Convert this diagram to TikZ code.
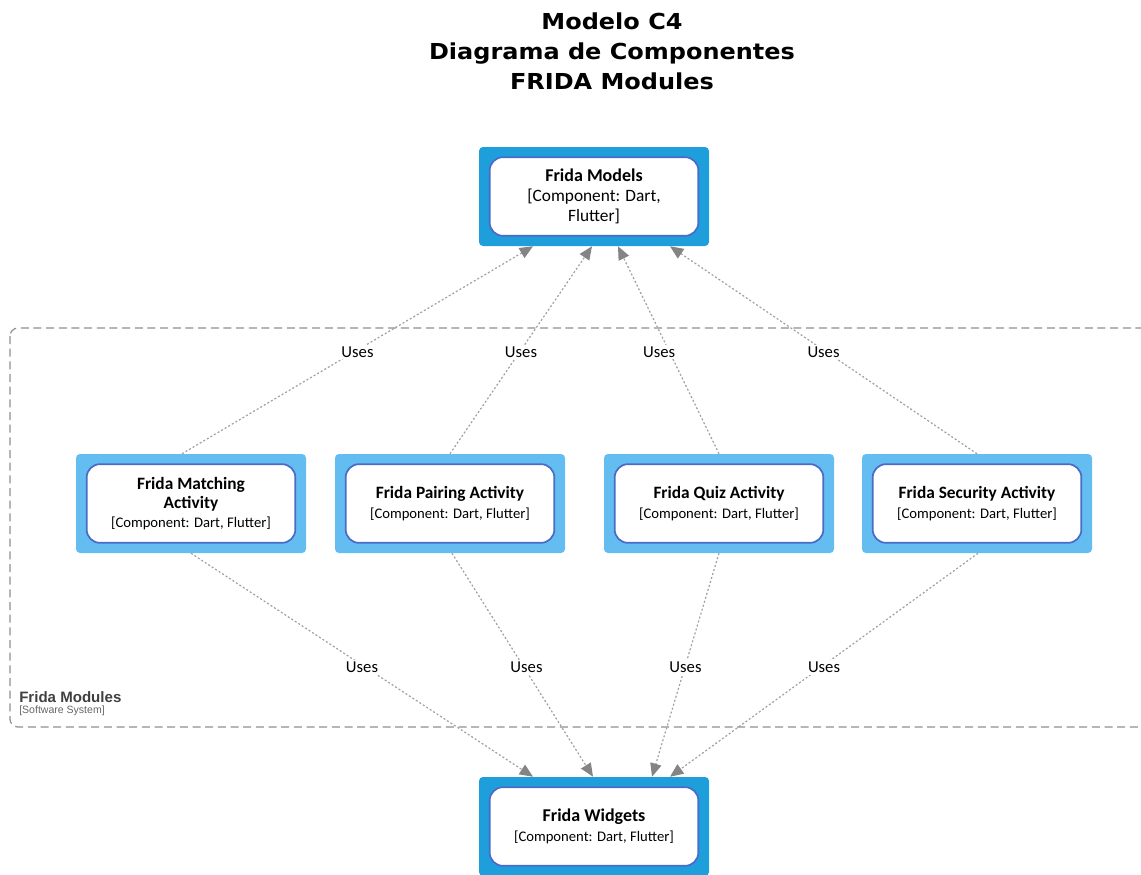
\documentclass[tikz,border=0pt]{standalone}
\usepackage{fontspec}
\setmainfont{Carlito}
\newfontfamily\titlefont[FakeStretch=1.09]{DejaVu Sans}
\newfontfamily\arialfont{Liberation Sans}
\usetikzlibrary{arrows.meta,positioning,calc}

\definecolor{compdark}{HTML}{1E9FDB}
\definecolor{complight}{HTML}{63BDF0}
\definecolor{compedge}{HTML}{4A6BC8}
\definecolor{relgray}{HTML}{A0A0A0}
\definecolor{tipgray}{HTML}{848484}
\definecolor{boundgray}{HTML}{8F8F8F}

\begin{document}
\begin{tikzpicture}[
    x=0.75pt, y=-0.75pt,
    outer/.style={rectangle, rounded corners=3pt, minimum width=172.5pt, minimum height=74.25pt, inner sep=0pt},
    core/.style={rectangle, rounded corners=10pt, draw=compedge, line width=1.3pt, fill=white, minimum width=156.5pt, minimum height=59pt, align=center, inner sep=2pt, font=\fontsize{11}{14.5}\selectfont},
    uses/.style={fill=white, font=\fontsize{12.5}{14}\selectfont, inner sep=1.5pt},
    rel/.style={draw=relgray, line width=0.9pt, dash pattern=on 1.5pt off 1.6pt, -{Triangle[length=10pt,width=8.5pt,fill=tipgray,color=tipgray]}},
    boundary/.style={draw=boundgray, line width=0.9pt, dash pattern=on 6pt off 3.5pt, rounded corners=6pt}
]
    \useasboundingbox (0,0) rectangle (1141,874);

    % title
    \node[font=\titlefont\bfseries\fontsize{16.5}{22.5}\selectfont, align=center] (title) at (612,51)
        {Modelo C4\\Diagrama de Componentes\\FRIDA Modules};

    % system boundary
    \draw[boundary] (10,328) rectangle (1175,727);
    \node[anchor=north west, inner sep=0pt, font=\arialfont\bfseries\fontsize{11.3}{12}\selectfont, text=black!75] (sysname) at (19,691) {Frida Modules};
    \node[below=2.5pt of sysname.south west, anchor=north west, inner sep=0pt, font=\arialfont\fontsize{7.9}{9}\selectfont, text=black!60] (systype) {[Software System]};

    % components
    \node[outer, fill=compdark] (models) at (594,196.5) {};
    \node[core, font=\fontsize{13}{15}\selectfont] (modelsin) at (models) {\textbf{\fontsize{13.5}{15}\selectfont Frida Models}\\{}[Component: Dart,\\Flutter]};

    \node[outer, fill=complight] (matching) at (191,503.5) {};
    \node[core] (matchingin) at (matching) {\textbf{\fontsize{13}{14.5}\selectfont Frida Matching}\\\textbf{\fontsize{13}{14.5}\selectfont Activity}\\{}[Component: Dart, Flutter]};

    \node[outer, fill=complight] (pairing) at (450,503.5) {};
    \node[core] (pairingin) at (pairing) {\textbf{\fontsize{13}{14.5}\selectfont Frida Pairing Activity}\\{}[Component: Dart, Flutter]};

    \node[outer, fill=complight] (quiz) at (719,503.5) {};
    \node[core] (quizin) at (quiz) {\textbf{\fontsize{13}{14.5}\selectfont Frida Quiz Activity}\\{}[Component: Dart, Flutter]};

    \node[outer, fill=complight] (security) at (977,503.5) {};
    \node[core] (securityin) at (security) {\textbf{\fontsize{13}{14.5}\selectfont Frida Security Activity}\\{}[Component: Dart, Flutter]};

    \node[outer, fill=compdark] (widgets) at (594,826.5) {};
    \node[core] (widgetsin) at (widgets) {\textbf{\fontsize{13.5}{14.5}\selectfont Frida Widgets}\\{}[Component: Dart, Flutter]};

    % uses -> models
    \draw[rel] ($(matching.north)+(-9,0)$) -- node[uses, yshift=-1.5pt] {Uses} ($(models.south)+(-61,0)$);
    \draw[rel] (pairing.north) -- node[uses, yshift=-1.5pt] {Uses} ($(models.south)+(-2,0)$);
    \draw[rel] (quiz.north) -- node[uses, xshift=-7pt, yshift=-1.5pt] {Uses} ($(models.south)+(24,0)$);
    \draw[rel] (security.north) -- node[uses, yshift=-1.5pt] {Uses} ($(models.south)+(76,0)$);

    % uses -> widgets
    \draw[rel] (matching.south) -- node[uses, yshift=-2pt] {Uses} ($(widgets.north)+(-61,0)$);
    \draw[rel] ($(pairing.south)+(2,0)$) -- node[uses, xshift=3pt, yshift=-2pt] {Uses} ($(widgets.north)+(-1,0)$);
    \draw[rel] (quiz.south) -- node[uses, yshift=-2pt] {Uses} ($(widgets.north)+(58,0)$);
    \draw[rel] ($(security.south)+(1,0)$) -- node[uses, yshift=-2pt] {Uses} ($(widgets.north)+(76,0)$);
\end{tikzpicture}
\end{document}
